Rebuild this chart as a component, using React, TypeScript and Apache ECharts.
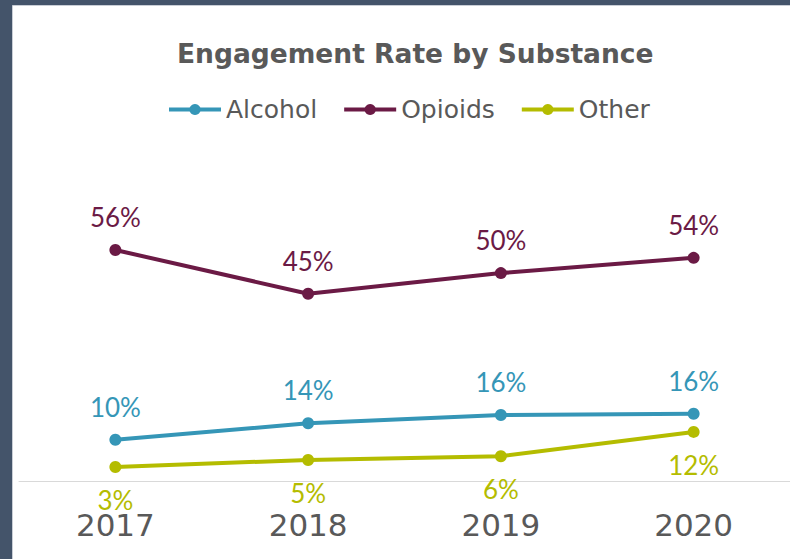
import React, { useEffect, useRef } from "react";
import * as echarts from "echarts";

const years = ["2017", "2018", "2019", "2020"];
const seriesNames = ["Alcohol", "Opioids", "Other"];
const alcohol = [10.0, 14.0, 16.0, 16.3];
const opioids = [56.0, 45.4, 50.4, 54.1];
const other = [3.4, 5.1, 6.0, 11.9];
const colors = ["#3596B7", "#6B1A45", "#B4BC00"];
const labelPositions = ["top", "top", "bottom"];

export default function App() {
  const ref = useRef<HTMLDivElement>(null);
  useEffect(() => {
    if (!ref.current) return;
    const chart = echarts.init(ref.current, null, { renderer: "svg" });
    const datasets = [alcohol, opioids, other];
    chart.setOption({
      animation: false,
      backgroundColor: "#44546A",
      graphic: [
        {
          type: "rect",
          shape: { x: 12.5, y: 5.5, width: 800, height: 600 },
          style: { fill: "#ffffff", stroke: "#c9ced6", lineWidth: 1 },
          z: -10,
        },
      ],
      title: {
        text: "Engagement Rate by Substance",
        left: 172,
        top: 35,
        textStyle: {
          fontFamily: "DejaVu Sans",
          fontWeight: "bold",
          fontSize: 26.5,
          color: "#595959",
        },
      },
      legend: {
        data: seriesNames,
        left: 162,
        top: 92,
        itemWidth: 52,
        itemHeight: 14,
        itemGap: 25,
        lineStyle: { width: 4 },
        textStyle: { fontFamily: "DejaVu Sans", fontSize: 25, color: "#595959" },
      },
      grid: { left: 19, right: -2, top: 233.5, bottom: 78 },
      xAxis: {
        type: "category",
        data: years,
        boundaryGap: true,
        axisLine: { lineStyle: { color: "#D9D9D9", width: 1 } },
        axisTick: { show: false },
        axisLabel: {
          margin: 28,
          fontFamily: "DejaVu Sans",
          fontSize: 31,
          color: "#595959",
        },
      },
      yAxis: {
        type: "value",
        min: 0,
        max: 60,
        show: false,
        splitLine: { show: false },
      },
      series: seriesNames.map((name, i) => ({
        name,
        type: "line",
        data: datasets[i],
        symbol: "circle",
        symbolSize: 12,
        color: colors[i],
        lineStyle: { width: 4, color: colors[i] },
        itemStyle: { color: colors[i] },
        label: {
          show: true,
          position: labelPositions[i],
          distance: 14,
          fontFamily: "Lato",
          fontSize: 26,
          color: colors[i],
          formatter: (p: any) => Math.round(p.value) + "%",
        },
      })),
    });
    return () => chart.dispose();
  }, []);
  return (
    <div
      ref={ref}
      style={{ position: "absolute", left: 0, top: 0, width: 790, height: 559 }}
    />
  );
}
